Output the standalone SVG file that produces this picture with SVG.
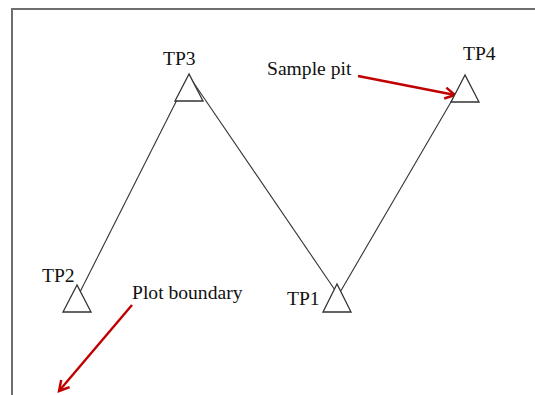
<svg xmlns="http://www.w3.org/2000/svg" width="535" height="395" viewBox="0 0 535 395">
  <style>
    .frame { fill: none; stroke: #6e6e6e; stroke-width: 2; }
    .pit { fill: #ffffff; stroke: #333333; stroke-width: 1.3; }
    .traverse { stroke: #333333; stroke-width: 1.1; fill: none; }
    .pointer { stroke: #c00000; stroke-width: 2.4; fill: none; }
    text { font-family: "Liberation Serif", "Times New Roman", serif; font-size: 19.6px; fill: #111111; }
  </style>
  <defs>
    <marker id="arrow" viewBox="0 0 12 12" refX="10" refY="6" markerWidth="5.5" markerHeight="5.5" markerUnits="strokeWidth" orient="auto">
      <path d="M1,1 L10,6 L1,11" fill="none" stroke="#c00000" stroke-width="2.2"/>
    </marker>
  </defs>

  <rect width="535" height="395" fill="#ffffff"/>

  <!-- plot frame (open to the right and bottom) -->
  <path class="frame" d="M12,395 L12,9 L535,9"/>

  <!-- connectors: traverse lines between pits and labelling arrows -->
  <g id="connectors">
    <line class="traverse" x1="189" y1="76" x2="80" y2="292"/>
    <line class="traverse" x1="189" y1="76" x2="337" y2="293"/>
    <line class="traverse" x1="465" y1="78" x2="339" y2="294"/>
    <line class="pointer" x1="358" y1="76" x2="455" y2="95" marker-end="url(#arrow)"/>
    <line class="pointer" x1="132" y1="305" x2="59" y2="391" marker-end="url(#arrow)"/>
  </g>

  <g id="tp1">
    <polygon class="pit" points="337,284 323,312 351,312"/>
    <text x="287" y="305">TP1</text>
  </g>
  <g id="tp2">
    <polygon class="pit" points="77,285 63,312 91,312"/>
    <text x="42" y="282">TP2</text>
  </g>
  <g id="tp3">
    <polygon class="pit" points="189,74 175,101 203,101"/>
    <text x="163" y="65">TP3</text>
  </g>
  <g id="tp4">
    <polygon class="pit" points="465,75 451,102 479,102"/>
    <text x="463" y="60">TP4</text>
  </g>

  <g id="label-sample-pit">
    <text x="267" y="75">Sample pit</text>
  </g>
  <g id="label-plot-boundary">
    <text x="132" y="299">Plot boundary</text>
  </g>
</svg>
